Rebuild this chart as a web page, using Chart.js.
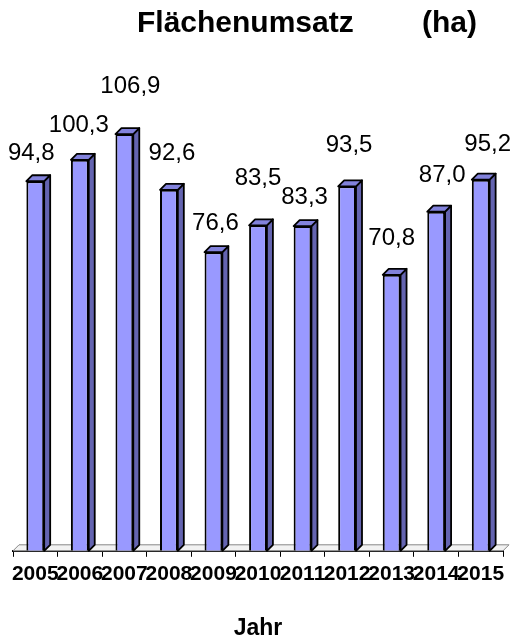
<!DOCTYPE html>
<html>
<head>
<meta charset="utf-8">
<script src="https://cdn.jsdelivr.net/npm/chart.js@4"></script>
<style>
  html, body { margin: 0; padding: 0; background: #fff; }
  #wrap { width: 513px; height: 640px; }
</style>
</head>
<body>
<div id="wrap"><canvas id="myChart"></canvas></div>
<script>
var years = ['2005', '2006', '2007', '2008', '2009', '2010', '2011', '2012', '2013', '2014', '2015'];
var flaeche = [94.8, 100.3, 106.9, 92.6, 76.6, 83.5, 83.3, 93.5, 70.8, 87.0, 95.2];

// kleine Verschiebung der Beschriftungen (wie im Original von Hand gesetzt)
var nudgeX = [-4, -1, 6, 3, 2, 0, 2, 2, 0, 6, 7];
var nudgeY = [-28, -34, -48, -36, -29, -47, -29, -41, -36, -36, -35];

var depth = 6; // Tiefe des 3D-Effekts

var bars3d = {
  id: 'bars3d',
  beforeDatasetsDraw: function(chart) {
    var c = chart.ctx;
    var area = chart.chartArea;
    var base = chart.scales.y.getPixelForValue(0);
    c.save();
    // Boden
    c.beginPath();
    c.moveTo(area.left, base);
    c.lineTo(area.left + depth, base - depth);
    c.lineTo(area.right + depth, base - depth);
    c.lineTo(area.right, base);
    c.closePath();
    c.fillStyle = '#f2f2f2';
    c.fill();
    c.strokeStyle = '#888';
    c.lineWidth = 1;
    c.stroke();

    c.lineWidth = 1.8;
    c.lineJoin = 'round';
    c.strokeStyle = '#000';
    chart.getDatasetMeta(0).data.forEach(function(bar) {
      var l = bar.x - bar.width / 2, r = bar.x + bar.width / 2;
      // Seite
      c.beginPath();
      c.moveTo(r, bar.y);
      c.lineTo(r + depth, bar.y - depth);
      c.lineTo(r + depth, bar.base - depth);
      c.lineTo(r, bar.base);
      c.closePath();
      c.fillStyle = '#6464b0';
      c.fill();
      c.stroke();
      // Deckel
      c.beginPath();
      c.moveTo(l, bar.y);
      c.lineTo(l + depth, bar.y - depth);
      c.lineTo(r + depth, bar.y - depth);
      c.lineTo(r, bar.y);
      c.closePath();
      c.fillStyle = '#8282dc';
      c.fill();
      c.stroke();
    });
    c.restore();
  },
  afterDatasetsDraw: function(chart) {
    var c = chart.ctx;
    c.save();
    c.fillStyle = '#000';
    c.font = '24px "Liberation Sans", Arial, sans-serif';
    c.textAlign = 'center';
    c.textBaseline = 'middle';
    chart.getDatasetMeta(0).data.forEach(function(bar, i) {
      var txt = flaeche[i].toFixed(1).replace('.', ',');
      c.fillText(txt, bar.x + nudgeX[i], bar.y + nudgeY[i]);
    });
    // Titel
    c.font = 'bold 30px "Liberation Sans", Arial, sans-serif';
    c.textAlign = 'left';
    c.textBaseline = 'alphabetic';
    c.fillText('Flächenumsatz', 137, 32);
    c.fillText('(ha)', 422, 32);
    c.restore();
  }
};

var ctx = document.getElementById('myChart').getContext('2d');
var myChart = new Chart(ctx, {
  type: 'bar',
  data: {
    labels: years,
    datasets: [{
      label: 'Flächenumsatz (ha)',
      data: flaeche,
      backgroundColor: '#9999ff',
      borderColor: '#000',
      borderWidth: 2,
      barPercentage: 0.4,
      categoryPercentage: 1.0
    }]
  },
  options: {
    responsive: true,
    maintainAspectRatio: false,
    animation: false,
    layout: { padding: { top: 83, left: 13, right: 10, bottom: 0 } },
    plugins: {
      legend: { display: false },
      tooltip: { enabled: false }
    },
    scales: {
      y: { display: false, min: 0, max: 120 },
      x: {
        border: { display: true, color: '#000', width: 2 },
        grid: { drawOnChartArea: false, drawTicks: true, tickLength: 6, color: '#000' },
        ticks: {
          autoSkip: false, maxRotation: 0, minRotation: 0, padding: 5,
          color: '#000',
          font: { family: '"Liberation Sans", Arial, sans-serif', size: 21, weight: 'bold' }
        },
        title: {
          display: true, text: 'Jahr', color: '#000',
          padding: { top: 25, bottom: 0 },
          font: { family: '"Liberation Sans", Arial, sans-serif', size: 23, weight: 'bold', lineHeight: 1 }
        }
      }
    }
  },
  plugins: [bars3d]
});
</script>
</body>
</html>
